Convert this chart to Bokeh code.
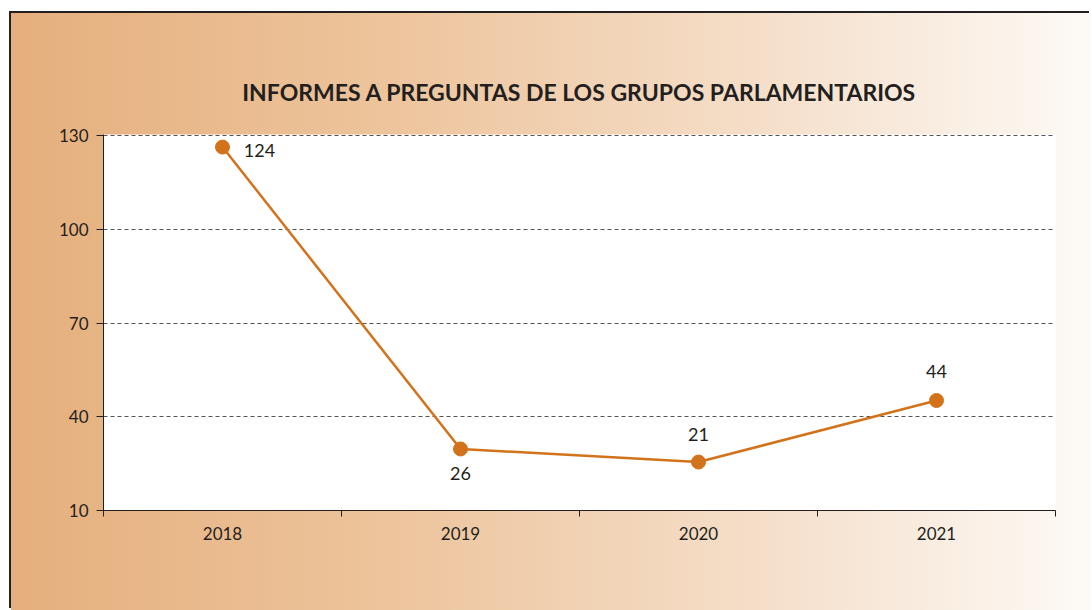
from bokeh.plotting import figure
from bokeh.models import (ColumnDataSource, LabelSet, Range1d, FixedTicker)
from bokeh.core.properties import value
from bokeh.embed import file_html
from bokeh.resources import INLINE

# ---- data ----
years = ["2018", "2019", "2020", "2021"]
values = [126.3, 29.7, 25.5, 45.2]          # plotted positions
value_labels = ["124", "26", "21", "44"]      # labels printed in the chart
label_dx = [37, 0, 0, 0]
label_dy = [-3, -25, 28, 29]
y_ticks = [10, 40, 70, 100, 130]
grid_ticks = [40, 70, 100, 130]

TITLE = "INFORMES A PREGUNTAS DE LOS GRUPOS PARLAMENTARIOS"
FONT = "Lato"
DARK = "#231f20"
LINE = "#d2731c"

xs = [i + 0.5 for i in range(len(years))]
src = ColumnDataSource(dict(x=xs, y=values, lab=value_labels, dx=label_dx, dy=label_dy))

p = figure(width=1080, height=597, output_backend="svg", toolbar_location=None,
           x_range=Range1d(0, len(years)), y_range=Range1d(10, 130.32),
           min_border_left=92, min_border_right=36, min_border_top=121, min_border_bottom=100)

p.styles = {
    "background": "linear-gradient(to right, #e5af7d 0%, #edc49c 35%, #f5dfca 70%, #fdfaf6 100%)",
    "box-shadow": f"-2px -2px 0 0 {DARK}",
    "margin-left": "11px",
    "margin-top": "13px",
}
p.border_fill_alpha = 0
p.background_fill_color = "white"
p.outline_line_color = None

p.title.text = TITLE
p.title.align = "center"
p.title.text_font = FONT
p.title.text_font_style = "bold"
p.title.text_font_size = "23px"
p.title.text_color = DARK
p.title.standoff = 57

# x axis: labels at centres, ticks at boundaries (minor ticks)
p.xaxis.ticker = FixedTicker(ticks=xs, minor_ticks=list(range(len(years) + 1)))
p.xaxis.major_label_overrides = {x: y for x, y in zip(xs, years)}
p.xaxis.major_tick_out = 0
p.xaxis.major_tick_in = 0
p.xaxis.minor_tick_out = 6
p.xaxis.minor_tick_in = 0
p.xaxis.minor_tick_line_color = DARK
p.xaxis.axis_line_color = DARK
p.xaxis.major_label_standoff = 10

p.yaxis.ticker = FixedTicker(ticks=y_ticks)
p.yaxis.major_tick_out = 7
p.yaxis.major_tick_in = 0
p.yaxis.minor_tick_line_color = None
p.yaxis.axis_line_color = DARK
p.yaxis.major_tick_line_color = DARK
p.yaxis.major_label_standoff = 8

for ax in (p.xaxis, p.yaxis):
    ax.major_label_text_font = FONT
    ax.major_label_text_font_size = "17px"
    ax.major_label_text_color = DARK

p.xgrid.grid_line_color = None
p.ygrid.ticker = FixedTicker(ticks=grid_ticks)
p.ygrid.grid_line_color = "#555555"
p.ygrid.grid_line_dash = "4 3"
p.ygrid.grid_line_width = 1

p.line("x", "y", source=src, line_color=LINE, line_width=2.5)
p.scatter("x", "y", source=src, size=14, fill_color=LINE, line_color=LINE)

labels = LabelSet(x="x", y="y", text="lab", source=src, x_offset="dx", y_offset="dy",
                  text_align="center", text_baseline="middle",
                  text_font=value(FONT), text_font_size=value("18px"), text_color=DARK)
p.add_layout(labels)

open("out.html", "w").write(file_html(p, INLINE))
